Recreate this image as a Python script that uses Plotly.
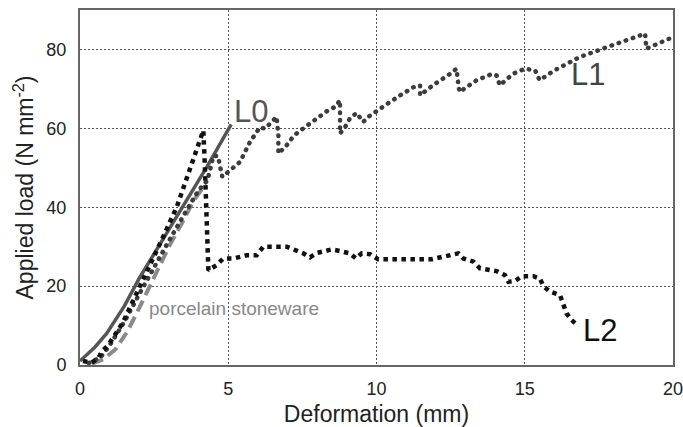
import plotly.graph_objects as go

# ---- data ----
l0_x = [0.0, 0.5, 0.9, 1.5, 2.0, 2.7, 3.5, 4.3, 5.1]
l0_y = [1.0, 4.5, 8.0, 15.0, 22.0, 30.8, 40.5, 50.5, 61.0]

l1_x = [0.3, 0.7, 1.0, 1.5, 2.0, 2.5, 3.0, 3.5, 4.0, 4.3, 4.5, 4.65, 4.8, 5.4, 5.73, 6.07, 6.24,
        6.63, 6.69, 6.69, 6.97, 7.14, 7.36, 7.59, 8.09, 8.37, 8.6, 8.77, 8.77, 8.77, 8.94, 9.1,
        9.33, 9.55, 9.72, 10.23, 10.7, 11.24, 11.47, 11.47, 11.9, 12.48, 12.7, 12.75, 12.8, 13.38,
        13.9, 14.05, 14.16, 14.6, 15.0, 15.35, 15.5, 16.0, 16.86, 17.93, 19.06, 19.1, 19.96]
l1_y = [0.5, 2.0, 5.0, 11.0, 18.0, 25.0, 31.5, 38.0, 44.3, 46.8, 53.0, 53.0, 47.7, 51.5, 56.5, 60.3, 59.9,
        62.9, 58.2, 53.6, 55.7, 57.4, 59.1, 60.3, 62.9, 64.6, 65.4, 67.1, 62.5, 58.7, 60.3, 62.5,
        63.9, 61.6, 62.9, 65.6, 67.9, 70.4, 70.9, 68.4, 70.9, 73.8, 75.1, 71.7, 69.2, 72.2,
        73.8, 73.4, 70.9, 73.8, 75.1, 74.7, 72.2, 74.7, 78.1, 81.0, 84.0, 80.2, 83.0]

l2_x = [0.1, 0.39, 0.62, 0.73, 0.95, 1.12, 1.29, 1.46, 2.02, 2.7, 3.26, 3.82, 4.16, 4.2, 4.33,
        4.6, 4.83, 5.17, 5.62, 5.96, 6.18, 6.41, 6.97, 7.53, 7.76, 7.98, 8.49, 8.77, 9.1, 9.31,
        9.5, 9.78, 10.06, 11.86, 12.25, 12.76, 12.93, 13.27, 13.49, 13.72, 14.05, 14.33, 14.45,
        14.67, 14.9, 15.29, 15.51, 15.63, 15.85, 16.19, 16.3, 16.41, 16.58, 16.8]
l2_y = [1.0, 0.6, 1.7, 3.4, 5.0, 7.2, 8.9, 11.0, 19.8, 30.8, 40.0, 51.9, 59.5, 52.7, 24.0,
        25.3, 27.0, 27.0, 27.8, 27.8, 30.0, 30.0, 30.0, 28.3, 27.3, 28.4, 29.3, 28.9, 28.3, 27.0,
        28.3, 28.1, 26.8, 26.8, 27.4, 28.3, 27.0, 26.2, 24.5, 24.1, 23.8, 22.8, 21.1,
        21.3, 22.5, 22.5, 21.9, 20.0, 18.6, 17.7, 15.6, 13.1, 11.4, 9.9]

ps_x = [0.4, 0.8, 1.2, 1.6, 2.0, 2.5, 3.0, 3.5, 3.8, 4.15]
ps_y = [0.3, 1.5, 4.0, 8.5, 14.5, 22.5, 30.0, 36.8, 41.3, 45.0]

x_ticks = [0, 5, 10, 15, 20]
y_ticks = [0, 20, 40, 60, 80]

FONT = "Liberation Sans, Arial, sans-serif"

fig = go.Figure()
fig.add_trace(go.Scatter(x=ps_x, y=ps_y, mode="lines", name="porcelain stoneware",
                         line=dict(color="#8a8a8a", width=4, dash="12px,6px")))
fig.add_trace(go.Scatter(x=l0_x, y=l0_y, mode="lines", name="L0",
                         line=dict(color="#555555", width=3.5)))
fig.add_trace(go.Scatter(x=l1_x, y=l1_y, mode="lines", name="L1",
                         line=dict(color="#3c3c3c", width=4.5, dash="0.5px,7px")))
fig.add_trace(go.Scatter(x=l2_x, y=l2_y, mode="lines", name="L2",
                         line=dict(color="#111111", width=4.5, dash="4.5px,4.5px")))

ann = dict(xref="x", yref="y", showarrow=False, xanchor="center", yanchor="middle")
fig.add_annotation(x=5.77, y=64.2, text="L0", font=dict(family=FONT, size=31, color="#555555"), **ann)
fig.add_annotation(x=17.12, y=73.6, text="L1", font=dict(family=FONT, size=31, color="#444444"), **ann)
fig.add_annotation(x=17.54, y=8.8, text="L2", font=dict(family=FONT, size=31, color="#111111"), **ann)
fig.add_annotation(x=2.25, y=14.2, text="porcelain stoneware", xref="x", yref="y", showarrow=False,
                   xanchor="left", yanchor="middle", font=dict(family=FONT, size=19, color="#888888"))

axis_common = dict(showgrid=True, griddash="2px,2px", gridcolor="#555555", gridwidth=1,
                   showline=True, linecolor="#666666", linewidth=2, mirror=True,
                   zeroline=False, ticks="outside", tickcolor="rgba(0,0,0,0)", automargin=False,
                   ticklabeloverflow="allow",
                   tickfont=dict(family=FONT, size=18, color="#222222"))

fig.update_xaxes(range=[0, 20], tickvals=x_ticks, ticklen=6,
                 title=dict(text="Deformation (mm)", font=dict(family=FONT, size=23, color="#222222"),
                            standoff=8),
                 **axis_common)
fig.update_yaxes(range=[0, 90], tickvals=y_ticks, ticklen=8,
                 title=dict(text="Applied load (N mm<sup>-2</sup>)",
                            font=dict(family=FONT, size=23, color="#222222"), standoff=6),
                 **axis_common)

fig.update_layout(width=683, height=427, margin=dict(l=80, r=10, t=10, b=62),
                  paper_bgcolor="white", plot_bgcolor="white", showlegend=False,
                  font=dict(family=FONT))

post = """
var gd = document.getElementById('{plot_id}');
function roundL1(){
  var tr = gd.querySelectorAll('.scatterlayer .trace');
  if (tr.length > 2) {
    var p = tr[2].querySelector('path.js-line');
    if (p) { p.style.strokeLinecap = 'round'; }
  }
}
roundL1();
gd.on('plotly_afterplot', roundL1);
"""
fig.write_html("out.html", post_script=post)
